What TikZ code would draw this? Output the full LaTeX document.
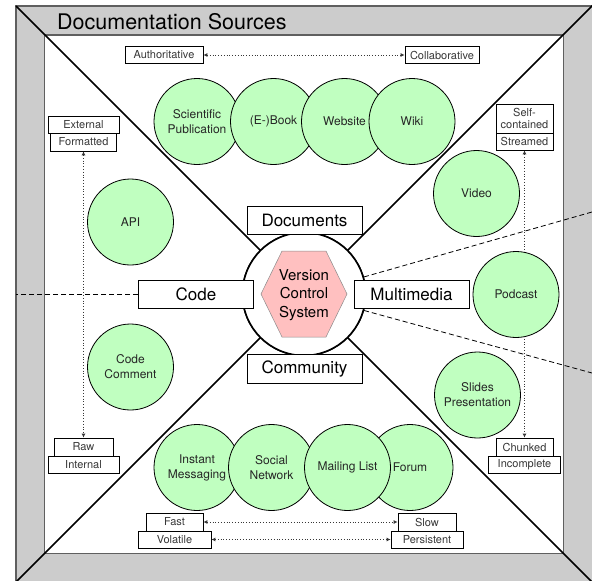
\documentclass[tikz,border=0pt]{standalone}
\usepackage{fontspec}
\setmainfont{TeX Gyre Heros}
\usetikzlibrary{arrows.meta}

\definecolor{framegray}{RGB}{204,204,204}
\definecolor{frameline}{RGB}{95,95,95}
\definecolor{leafgreen}{RGB}{192,255,192}
\definecolor{vcspink}{RGB}{255,192,192}
\definecolor{tagtext}{RGB}{55,55,55}

\begin{document}
\begin{tikzpicture}[x=1pt,y=-1pt,
  tag/.style={draw=black, line width=0.7pt, fill=white, inner sep=0pt,
    font=\fontsize{11}{12}\selectfont, text=tagtext, align=center},
  leaf/.style={circle, draw=black, line width=0.8pt, fill=leafgreen,
    minimum size=86pt, inner sep=0pt, font=\fontsize{12}{15}\selectfont,
    text=black!85, align=center},
  facet/.style={draw=black, line width=0.8pt, fill=white, inner sep=0pt,
    minimum width=115pt, minimum height=28pt, font=\fontsize{17}{20}\selectfont},
  spanarrow/.style={dotted, line width=0.8pt, draw=tagtext,
    {Latex[length=4pt,width=4pt]}-{Latex[length=4pt,width=4pt]}},
  axis/.style={line width=1.6pt, draw=black},
  zoomline/.style={dash pattern=on 5pt off 3pt, line width=0.8pt, draw=black},
]
\useasboundingbox (0,0) rectangle (592,581);

% outer gray frame and inner white panel
\fill[framegray] (16,6) rectangle (610,610);
\draw[frameline, line width=1.3pt] (610,6) -- (16,6) -- (16,610);
\draw[frameline, line width=1.3pt, fill=white] (44.5,35) rectangle (563.5,553.5);

% title
\node[anchor=west, inner sep=0pt, font=\fontsize{21.5}{24}\selectfont] (title) at (57,22) {Documentation Sources};

% corner points for the quadrant axes
\coordinate (cornerTL) at (16,6);
\coordinate (cornerTR) at (600,-2);
\coordinate (cornerBL) at (8,590);
\coordinate (cornerBR) at (600,590);
\coordinate (leftedge) at (16,294);
\coordinate (zoomTop) at (592,212);
\coordinate (zoomBot) at (592,373);

% central hub
\node[circle, draw=black, line width=1.6pt, fill=white, minimum size=123pt, inner sep=0pt] (hub) at (304,294) {};

% quadrant axes and zoom lines
\draw[axis] (hub) -- (cornerTL);
\draw[axis] (hub) -- (cornerTR);
\draw[axis] (hub) -- (cornerBL);
\draw[axis] (hub) -- (cornerBR);
\draw[zoomline] (hub) -- (zoomTop);
\draw[zoomline] (hub) -- (zoomBot);
\node[circle, draw=black, line width=1.6pt, fill=white, minimum size=123pt, inner sep=0pt] at (hub) {};

% hexagon in the middle
\fill[vcspink, draw=black!45, line width=0.5pt]
  (261,294) -- (282,251) -- (326,251) -- (347,294) -- (326,337) -- (282,337) -- cycle;
\node[align=center, inner sep=0pt, font=\fontsize{15}{18.5}\selectfont] (vcs) at (304,295) {Version\\Control\\System};

% facet labels
\node[facet] (documents) at (304.5,220) {Documents};
\node[facet, minimum height=29pt] (community) at (304.5,368.5) {Community};
\node[facet] (code) at (196,294) {Code};
\node[facet] (multimedia) at (411.5,294) {Multimedia};
\draw[zoomline] (code) -- (leftedge);

% range arrows
\node[tag, minimum width=78pt, minimum height=17pt] (authoritative) at (164,55) {Authoritative};
\node[tag, minimum width=74pt, minimum height=17pt] (collaborative) at (442,55) {Collaborative};
\node[tag, minimum width=71pt, minimum height=17pt] (external) at (83.5,124.5) {External};
\node[tag, minimum width=66pt, minimum height=18pt] (formatted) at (83.5,142) {Formatted};
\node[tag, minimum width=59pt, minimum height=18pt] (raw) at (83.5,447) {Raw};
\node[tag, minimum width=71pt, minimum height=17pt] (internal) at (83.5,464.5) {Internal};
\node[tag, minimum width=57pt, minimum height=29pt] (selfcontained) at (524.5,118.5) {Self-\\contained};
\node[tag, minimum width=57pt, minimum height=17pt] (streamed) at (524.5,141.5) {Streamed};
\node[tag, minimum width=57pt, minimum height=18pt] (chunked) at (524.5,447) {Chunked};
\node[tag, minimum width=72pt, minimum height=17pt] (incomplete) at (524.5,464.5) {Incomplete};
\node[tag, minimum width=57pt, minimum height=18pt] (fast) at (174.5,522) {Fast};
\node[tag, minimum width=73pt, minimum height=17pt] (volatile) at (174.5,539.5) {Volatile};
\node[tag, minimum width=58pt, minimum height=18pt] (slow) at (427,522) {Slow};
\node[tag, minimum width=72pt, minimum height=17pt] (persistent) at (427,539.5) {Persistent};

\draw[spanarrow] (authoritative) -- (collaborative);
\draw[spanarrow] (formatted) -- (raw);
\draw[spanarrow] (streamed) -- (chunked);
\draw[spanarrow] (fast) -- (slow);
\draw[spanarrow] (volatile) -- (persistent);

% documents
\node[leaf] (sci) at (197,121.5) {Scientific\\Publication};
\node[leaf] (book) at (273.5,121.5) {(E-)Book};
\node[leaf] (web) at (344.5,121.5) {Website};
\node[leaf] (wiki) at (412,121.5) {Wiki};
% code
\node[leaf] (api) at (130.5,222) {API};
\node[leaf] (comment) at (130.5,367) {Code\\Comment};
% multimedia
\node[leaf] (video) at (476.5,193.5) {Video};
\node[leaf] (podcast) at (516,294.5) {Podcast};
\node[leaf] (slides) at (477.5,395) {Slides\\Presentation};
% community
\node[leaf] (im) at (197,467.5) {Instant\\Messaging};
\node[leaf] (social) at (271.5,467.5) {Social\\Network};
\node[leaf] (forum) at (410,467.5) {Forum};
\node[leaf] (mail) at (347.5,467.5) {Mailing List};
\end{tikzpicture}
\end{document}
